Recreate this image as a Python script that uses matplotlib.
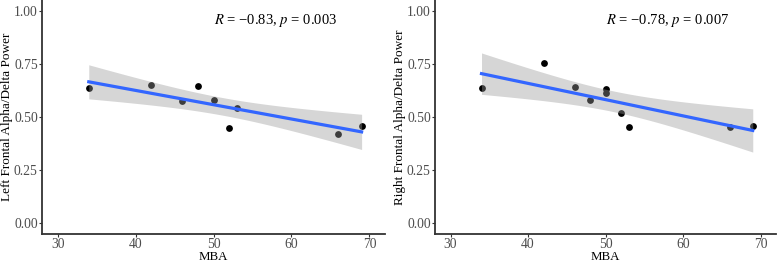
import numpy as np
import matplotlib
matplotlib.use("Agg")
import matplotlib.pyplot as plt

plt.rcParams['font.family'] = ['Liberation Serif', 'DejaVu Serif']
plt.rcParams['mathtext.fontset'] = 'stix'

# data
mba_left = [34, 42, 46, 48, 50, 52, 53, 66, 69]
power_left = [0.634, 0.649, 0.574, 0.645, 0.581, 0.449, 0.541, 0.421, 0.459]

mba_right = [34, 42, 46, 48, 50, 50, 52, 53, 66, 69]
power_right = [0.638, 0.755, 0.640, 0.578, 0.630, 0.615, 0.520, 0.452, 0.455, 0.458]

labels = ["Left Frontal Alpha/Delta Power", "Right Frontal Alpha/Delta Power"]
stats = ["$R$ = \u22120.83, $p$ = 0.003", "$R$ = \u22120.78, $p$ = 0.007"]
t_crit = {7: 2.365, 8: 2.306}  # 0.975 quantile of t


def panel(ax, x, y, ylabel, stat_text):
    x = np.array(x, dtype=float)
    y = np.array(y, dtype=float)
    n = len(x)
    slope, icpt = np.polyfit(x, y, 1)
    resid = y - (slope * x + icpt)
    s = np.sqrt(np.sum(resid ** 2) / (n - 2))
    xs = np.linspace(x.min(), x.max(), 80)
    fit = slope * xs + icpt
    se = s * np.sqrt(1 / n + (xs - x.mean()) ** 2 / np.sum((x - x.mean()) ** 2))
    t = t_crit[n - 2]

    ax.scatter(x, y, s=24, color="black", zorder=2, linewidths=0)
    ax.fill_between(xs, fit - t * se, fit + t * se, color="#999999", alpha=0.4,
                    linewidth=0, zorder=3)
    ax.plot(xs, fit, color="#3366FF", linewidth=2.3, zorder=4)

    ax.set_xlim(28, 72)
    ax.set_ylim(-0.05, 1.05)
    ax.set_xticks([30, 40, 50, 60, 70])
    ax.set_yticks([0, 0.25, 0.5, 0.75, 1.0])
    ax.set_yticklabels(["0.00", "0.25", "0.50", "0.75", "1.00"])
    for sp in ["top", "right"]:
        ax.spines[sp].set_visible(False)
    for sp in ["left", "bottom"]:
        ax.spines[sp].set_linewidth(1.3)
        ax.spines[sp].set_color("#333333")
    ax.tick_params(colors="#333333", labelcolor="#4D4D4D", labelsize=9.8,
                   length=2, width=0.8, pad=1)
    ax.set_xlabel("MBA", fontsize=9.3, labelpad=0)
    ax.set_ylabel(ylabel, fontsize=9.5, labelpad=1)
    ax.text(50, 0.955, stat_text, fontsize=10.5, va="center", ha="left")


fig = plt.figure(figsize=(7.78, 2.62), dpi=100)
ax1 = fig.add_axes([42 / 778, 28 / 262, 343 / 778, 234 / 262])
ax2 = fig.add_axes([435 / 778, 28 / 262, 341 / 778, 234 / 262])

panel(ax1, mba_left, power_left, labels[0], stats[0])
panel(ax2, mba_right, power_right, labels[1], stats[1])

fig.savefig("out.png", dpi=100)
